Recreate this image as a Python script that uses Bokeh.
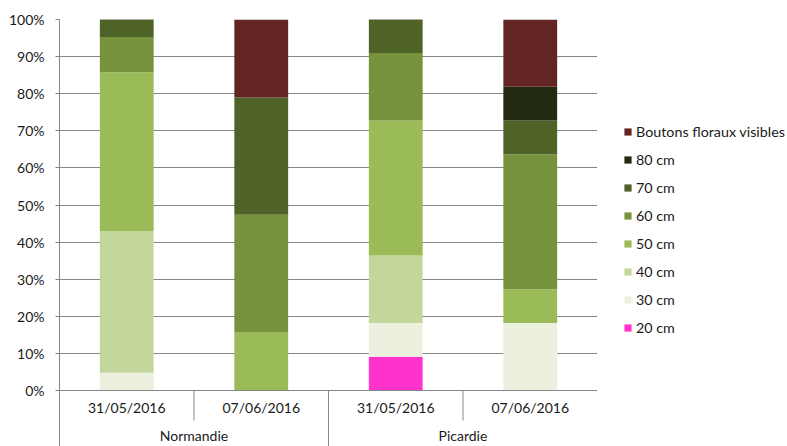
from bokeh.plotting import figure
from bokeh.layouts import row
from bokeh.models import (FactorRange, Range1d, ColumnDataSource, FixedTicker,
                          PrintfTickFormatter, Legend, LegendItem)
from bokeh.embed import file_html
from bokeh.resources import INLINE

# ---- data (percent of plants per height class) ----
regions = ["Normandie", "Normandie", "Picardie", "Picardie"]
dates = ["31/05/2016", "07/06/2016", "31/05/2016", "07/06/2016"]
series = ["20 cm", "30 cm", "40 cm", "50 cm", "60 cm", "70 cm", "80 cm", "Boutons floraux visibles"]
v20 = [0.0, 0.0, 9.1, 0.0]
v30 = [4.8, 0.0, 9.1, 18.2]
v40 = [38.1, 0.0, 18.2, 0.0]
v50 = [42.9, 15.8, 36.4, 9.1]
v60 = [9.5, 31.6, 18.2, 36.4]
v70 = [4.8, 31.6, 9.1, 9.1]
v80 = [0.0, 0.0, 0.0, 9.1]
vbout = [0.0, 21.0, 0.0, 18.2]
colors = ["#FF33CC", "#EBF1DE", "#C3D69B", "#9BBB59", "#76923C", "#4F6228", "#222A12", "#632523"]
y_ticks = [0, 10, 20, 30, 40, 50, 60, 70, 80, 90, 100]

factors = list(zip(regions, dates))
source = ColumnDataSource(dict(x=factors, **dict(zip(series, [v20, v30, v40, v50, v60, v70, v80, vbout]))))

FONT = "Lato"
GRID = "#868686"
TXT = "#1a1a1a"
YMIN = -15.09

xr = FactorRange(factors=factors, factor_padding=0, group_padding=0, range_padding=0)
p = figure(x_range=xr, y_range=Range1d(YMIN, 100), width=597, height=446,
           output_backend="svg", toolbar_location=None,
           min_border_top=19, min_border_bottom=0, min_border_left=59, min_border_right=0)
p.outline_line_color = None

rs = p.vbar_stack(series, x="x", width=0.4, color=colors, line_color=None, source=source)

# separators of the category axis
sep_x, sep_y1 = [], []
for i, f in enumerate(factors):
    if i == 0:
        continue
    sep_x.append((f[0], f[1], -0.5))
    sep_y1.append(YMIN if f[0] != factors[i - 1][0] else -8.1)
sep_x.append((factors[-1][0], factors[-1][1], 0.5))
sep_y1.append(YMIN)
sep_src = ColumnDataSource(dict(x=sep_x, y0=[0] * len(sep_x), y1=sep_y1))
p.segment(x0="x", y0="y0", x1="x", y1="y1", source=sep_src, line_color=GRID, line_width=1)

# y axis
p.yaxis.ticker = FixedTicker(ticks=y_ticks)
p.yaxis.formatter = PrintfTickFormatter(format="%d%%")
p.yaxis.axis_line_color = GRID
p.yaxis.major_tick_line_color = GRID
p.yaxis.major_tick_out = 4
p.yaxis.major_tick_in = 0
p.yaxis.minor_tick_line_color = None
p.yaxis.major_label_standoff = 11
p.yaxis.major_label_text_font = FONT
p.yaxis.major_label_text_font_size = "14px"
p.yaxis.major_label_text_color = TXT

p.ygrid.ticker = FixedTicker(ticks=y_ticks)
p.ygrid.grid_line_color = GRID
p.xgrid.grid_line_color = None

# x axis
xa = p.xaxis[0]
xa.fixed_location = 0
xa.axis_line_color = GRID
xa.major_tick_line_color = None
xa.major_tick_out = 0
xa.major_tick_in = 0
xa.minor_tick_line_color = None
xa.major_label_text_font = FONT
xa.major_label_text_font_size = "14px"
xa.major_label_text_color = TXT
xa.group_text_font = FONT
xa.group_text_font_size = "14px"
xa.group_text_color = TXT
xa.group_text_font_style = "normal"
xa.separator_line_color = None
xa.major_label_standoff = 8

# legend panel (separate figure to the right of the chart)
lp = figure(x_range=FactorRange(factors=factors), y_range=Range1d(0, 100), width=190, height=446,
            output_backend="svg", toolbar_location=None, x_axis_location=None, y_axis_location=None,
            min_border=0)
lp.outline_line_color = None
lp.grid.grid_line_color = None
lrs = lp.vbar_stack(series, x="x", width=0.4, color=colors, line_color=None, source=source)
for r in lrs:
    r.visible = False

items = [LegendItem(label=s, renderers=[r]) for s, r in zip(series, lrs)][::-1]
legend = Legend(items=items, location=(26, 109), margin=0, padding=0,
                glyph_width=9, glyph_height=9, label_height=20, spacing=8, label_standoff=4,
                label_text_font=FONT, label_text_font_size="14.3px", label_text_color=TXT,
                border_line_color=None, background_fill_alpha=0, inactive_fill_alpha=0)
lp.add_layout(legend)

layout = row(p, lp, spacing=0)
open("out.html", "w").write(file_html(layout, INLINE))
